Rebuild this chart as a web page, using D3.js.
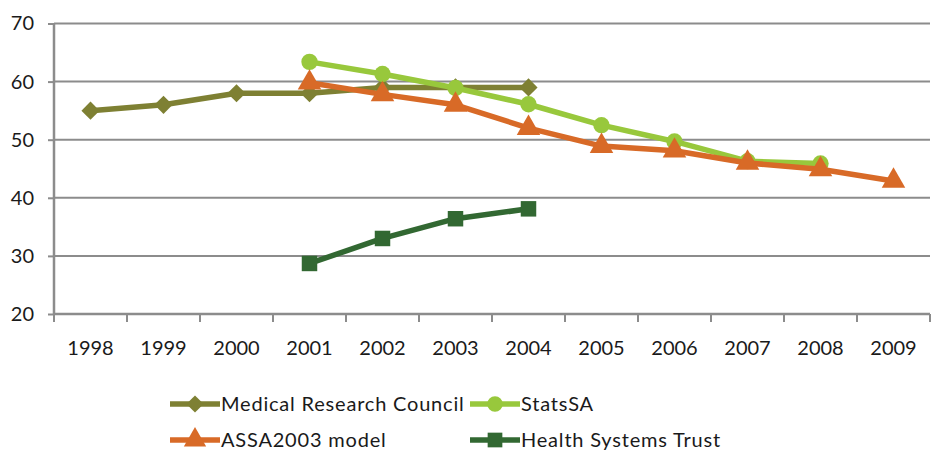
<!DOCTYPE html>
<html><head><meta charset="utf-8">
<script src="https://cdn.jsdelivr.net/npm/d3@7"></script>
<style>body{margin:0;background:#fff}svg{display:block}text{font-family:Lato,"Open Sans",sans-serif;fill:#1a1a1a}</style>
</head><body><svg id="c" width="932" height="452"></svg>
<script>
const years = ["1998","1999","2000","2001","2002","2003","2004","2005","2006","2007","2008","2009"];
const yTicks = [20,30,40,50,60,70];
const seriesNames = ["Medical Research Council","StatsSA","ASSA2003 model","Health Systems Trust"];
const mrcValues = [55,56,58,58,59,59,59,null,null,null,null,null];
const statsSAValues = [null,null,null,63.4,61.3,58.9,56.1,52.5,49.7,46.3,45.9,null];
const assaValues = [null,null,null,59.8,57.8,56,52,48.9,48.1,46,44.9,42.9];
const hstValues = [null,null,null,28.7,33,36.4,38.1,null,null,null,null,null];
const colors = ["#7e8033","#98c83c","#d86a27","#326832"];
const symbols = [d3.symbolDiamond2, d3.symbolCircle, d3.symbolTriangle, d3.symbolSquare];

const svg = d3.select("#c");
const L=54,R=930,T=23.5,B=314;
const x = d3.scaleBand().domain(years).range([L,R]).padding(0);
const y = d3.scaleLinear().domain([20,70]).range([B,T]);
const grid="#8c8c8c";

svg.append("g").selectAll("line").data(yTicks.slice(1)).join("line")
 .attr("x1",L).attr("x2",R).attr("y1",d=>y(d)).attr("y2",d=>y(d))
 .attr("stroke",grid).attr("stroke-width",2);

const ya = svg.append("g").attr("transform",`translate(${L},0)`)
 .call(d3.axisLeft(y).tickValues(yTicks).tickSize(6).tickPadding(14));
ya.select(".domain").attr("stroke",grid).attr("stroke-width",2.5).attr("d",`M0,${T}V${B}`);
ya.selectAll(".tick line").attr("stroke",grid).attr("stroke-width",2);
ya.selectAll(".tick text").style("font-size","20px").attr("fill","#1a1a1a");

const xa = svg.append("g").attr("transform",`translate(0,${B})`)
 .call(d3.axisBottom(x).tickSize(0).tickPadding(27));
xa.select(".domain").attr("stroke",grid).attr("stroke-width",2.5).attr("d",`M${L},0H${R}`);
xa.selectAll(".tick text").style("font-size","20px").attr("fill","#1a1a1a");
svg.append("g").selectAll("line").data(years.map(d=>x(d)).concat([R])).join("line")
 .attr("x1",d=>d).attr("x2",d=>d).attr("y1",B).attr("y2",B+8)
 .attr("stroke",grid).attr("stroke-width",2);

const all = [mrcValues,statsSAValues,assaValues,hstValues];
const cx = d=>x(d.year)+x.bandwidth()/2;
const sizes=[210,210,240,240];
all.forEach((vals,i)=>{
  const pts = years.map((yr,j)=>({year:yr,v:vals[j]})).filter(d=>d.v!=null);
  svg.append("path").datum(pts)
   .attr("d",d3.line().x(cx).y(d=>y(d.v)))
   .attr("fill","none").attr("stroke",colors[i]).attr("stroke-width",5.5).attr("stroke-linejoin","round");
  svg.append("g").selectAll("path").data(pts).join("path")
   .attr("transform",d=>`translate(${cx(d)},${y(d.v)})`)
   .attr("d",d3.symbol(symbols[i],sizes[i]))
   .attr("fill",colors[i]);
});

const leg = [{x:170,y:404},{x:470,y:404},{x:170,y:440},{x:470,y:440}];
seriesNames.forEach((n,i)=>{
  const g = svg.append("g").attr("transform",`translate(${leg[i].x},${leg[i].y})`);
  g.append("line").attr("x1",0).attr("x2",50).attr("stroke",colors[i]).attr("stroke-width",5.5);
  g.append("path").attr("transform","translate(25,0)").attr("d",d3.symbol(symbols[i],sizes[i]*0.9)).attr("fill",colors[i]);
  g.append("text").attr("x",51).attr("dy","0.35em").style("font-size","20px").style("letter-spacing","0.8px").text(n);
});
</script></body></html>
